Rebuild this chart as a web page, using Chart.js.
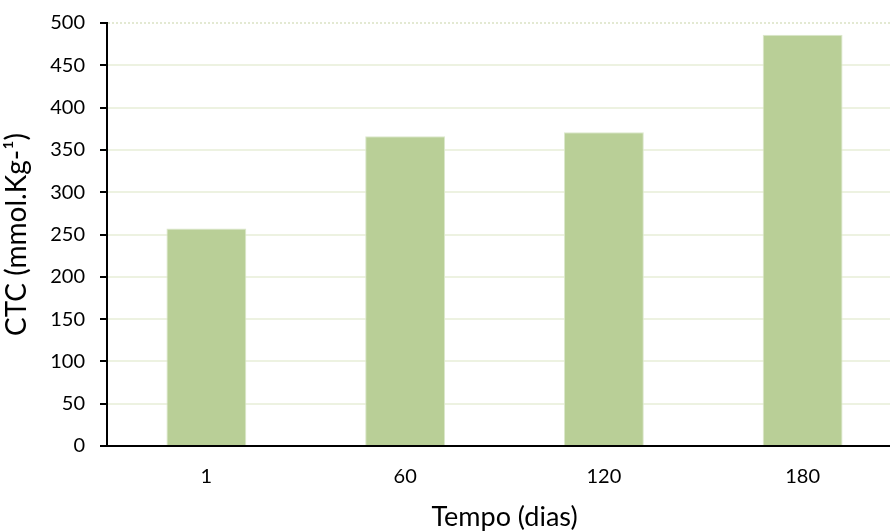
<!DOCTYPE html>
<html>
<head>
<meta charset="utf-8">
<script src="https://cdn.jsdelivr.net/npm/chart.js@4"></script>
<style>
  html, body { margin: 0; padding: 0; background: #fff; overflow: hidden; }
  /* the plot runs off the right edge in the reference, so the canvas is wider than the view */
  #wrap { width: 890px; height: 531px; overflow: hidden; }
</style>
</head>
<body>
<div id="wrap"><canvas id="myChart" width="905" height="531"></canvas></div>
<script>
// data
const categories = ["1", "60", "120", "180"];
const ctcValues = [257, 366, 371, 486];
const yTicks = [0, 50, 100, 150, 200, 250, 300, 350, 400, 450, 500];

const FONT = "Lato, 'Open Sans', sans-serif";

// dotted line at the top of the value axis, like the reference
const topDots = {
  id: 'topDots',
  beforeDatasetsDraw(chart) {
    const y = chart.scales.y.getPixelForValue(500);
    const c = chart.ctx;
    c.save();
    c.strokeStyle = '#E3E9D2';
    c.lineWidth = 2;
    c.setLineDash([2, 2]);
    c.beginPath();
    c.moveTo(chart.chartArea.left + 1, y);
    c.lineTo(chart.chartArea.right, y);
    c.stroke();
    c.restore();
  }
};

const ctx = document.getElementById('myChart').getContext('2d');
new Chart(ctx, {
  type: 'bar',
  data: {
    labels: categories,
    datasets: [{
      label: 'CTC',
      data: ctcValues,
      backgroundColor: '#B9CF97',
      borderColor: '#DCE8CC',
      borderWidth: { top: 1, left: 1, right: 1, bottom: 0 },
      categoryPercentage: 1,
      barPercentage: 0.402
    }]
  },
  options: {
    responsive: false,
    animation: false,
    layout: { padding: { top: 23, right: 3, left: 0, bottom: 0 } },
    plugins: { legend: { display: false }, tooltip: { enabled: false } },
    scales: {
      x: {
        grid: { display: false, drawTicks: false },
        border: { color: '#000', width: 2 },
        ticks: { color: '#000', font: { family: FONT, size: 20 }, padding: 19 },
        title: {
          display: true, text: 'Tempo (dias)', color: '#000',
          font: { family: FONT, size: 27 }, padding: { top: 0, bottom: -2 }
        },
        afterFit: (s) => { s.height = 85; }
      },
      y: {
        min: 0, max: 500,
        afterBuildTicks: (s) => { s.ticks = yTicks.map(v => ({ value: v })); },
        grid: {
          color: (c) => c.tick && c.tick.value === 500 ? 'rgba(0,0,0,0)' : '#EDF2E1',
          lineWidth: 2,
          tickColor: '#000',
          tickLength: 7,
          tickWidth: 2
        },
        border: { color: '#000', width: 2 },
        ticks: { color: '#000', font: { family: FONT, size: 20 }, padding: 15 },
        title: {
          display: true, text: 'CTC (mmol.Kg-¹)', color: '#000',
          font: { family: FONT, size: 28 }, padding: { top: 0, bottom: 0 }
        },
        afterFit: (s) => { s.width = 107; s.paddingTop = 0; s.paddingBottom = 0; }
      }
    }
  },
  plugins: [topDots]
});
</script>
</body>
</html>
